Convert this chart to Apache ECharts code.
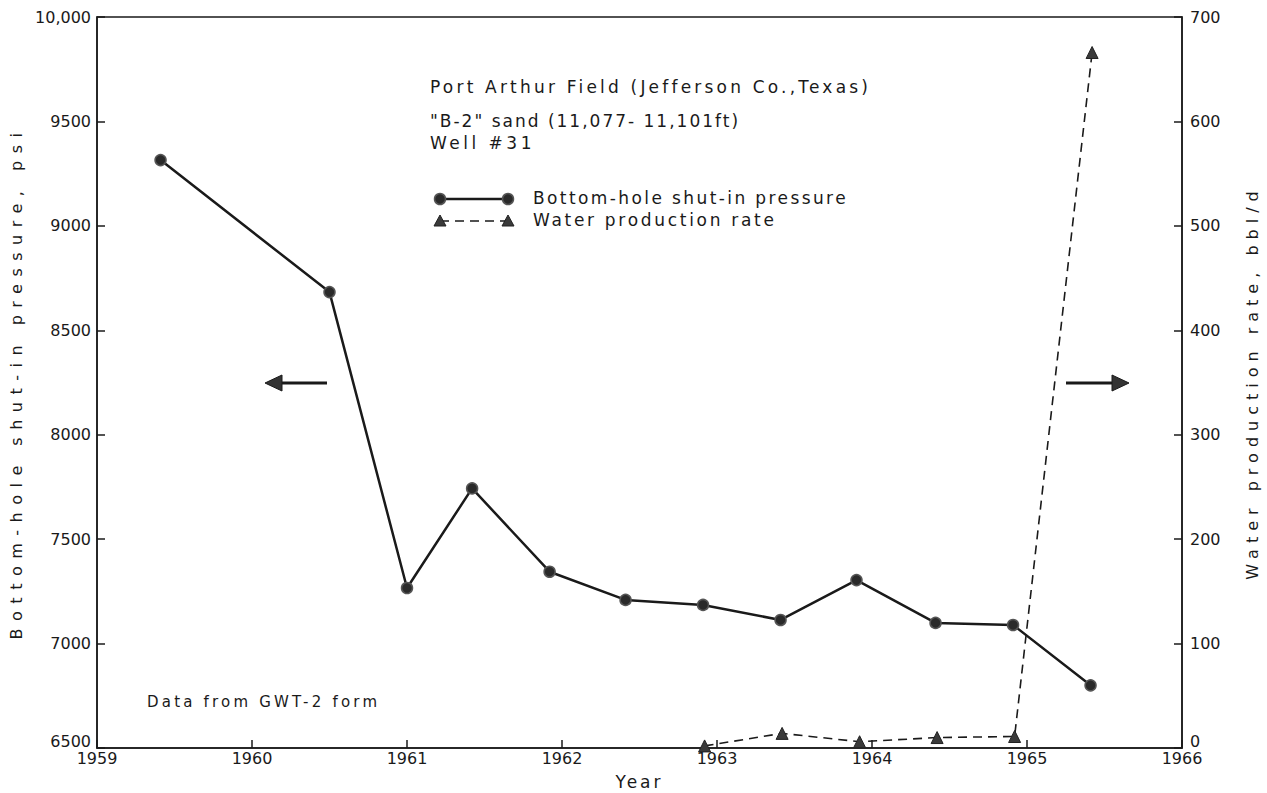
<!DOCTYPE html>
<html>
<head>
<meta charset="utf-8">
<script src="https://cdn.jsdelivr.net/npm/echarts@6/dist/echarts.min.js"></script>
<style>
html,body{margin:0;padding:0;background:#fff;}
#chart{width:1267px;height:793px;}
</style>
</head>
<body>
<div id="chart"></div>
<script>
// Data
const pressureYears = [1959.41, 1960.50, 1961.00, 1961.42, 1961.92, 1962.41, 1962.91, 1963.41, 1963.90, 1964.41, 1964.91, 1965.41];
const pressureValues = [9315, 8683, 7266, 7743, 7344, 7209, 7185, 7113, 7304, 7099, 7089, 6800];
const waterYears = [1962.92, 1963.42, 1963.92, 1964.42, 1964.92, 1965.42];
const waterValues = [2, 14, 6, 10, 11, 666];
const seriesNames = ['Bottom-hole shut-in pressure', 'Water production rate'];
const axisNames = ['Year', 'Bottom-hole shut-in pressure, psi', 'Water production rate, bbl/d'];
const annotationLines = ['Port Arthur Field (Jefferson Co.,Texas)', '"B-2" sand (11,077- 11,101ft)', 'Well #31'];
const footnote = 'Data from GWT-2 form';

const FONT = '"DejaVu Sans", "Liberation Sans", sans-serif';
const INK = '#1a1a1a';

const chart = echarts.init(document.getElementById('chart'), null, {renderer: 'svg'});

function zip(xs, ys) { return xs.map((x, i) => [x, ys[i]]); }

const liftRich = {z: {fontFamily: FONT, fontSize: 16, color: INK, padding: [0, 0, 14, 0]}};

const option = {
  backgroundColor: '#ffffff',
  animation: false,
  grid: {left: 97, right: 85, top: 17, bottom: 45, show: true, borderColor: INK, borderWidth: 1.5,
         backgroundColor: 'transparent', outerBoundsMode: 'none'},
  xAxis: {
    type: 'value', min: 1959, max: 1966, interval: 1,
    name: axisNames[0], nameLocation: 'middle', nameGap: 25,
    nameTextStyle: {fontFamily: FONT, fontSize: 17, color: INK},
    axisLine: {show: true, lineStyle: {color: INK, width: 1.5}},
    axisTick: {show: true, inside: true, length: 8, lineStyle: {color: INK, width: 1.5}},
    axisLabel: {fontFamily: FONT, fontSize: 16, color: INK, margin: 2, formatter: v => String(v)},
    splitLine: {show: false}
  },
  yAxis: [
    {
      type: 'value', min: 6500, max: 10000, interval: 500, position: 'left',
      name: axisNames[1], nameLocation: 'middle', nameGap: 72, nameRotate: 90,
      nameTextStyle: {fontFamily: FONT, fontSize: 16, color: INK},
      axisLine: {show: true, lineStyle: {color: INK, width: 1.5}},
      axisTick: {show: true, inside: true, length: 8, lineStyle: {color: INK, width: 1.5}},
      axisLabel: {fontFamily: FONT, fontSize: 16, color: INK, margin: 6,
        formatter: v => v >= 10000 ? v.toLocaleString('en-US') : (v === 6500 ? '{z|6500}' : String(v)),
        rich: liftRich},
      splitLine: {show: false}
    },
    {
      type: 'value', min: 0, max: 700, interval: 100, position: 'right',
      name: axisNames[2], nameLocation: 'middle', nameGap: 62, nameRotate: 90,
      nameTextStyle: {fontFamily: FONT, fontSize: 16, color: INK},
      axisLine: {show: true, lineStyle: {color: INK, width: 1.5}},
      axisTick: {show: true, inside: true, length: 8, lineStyle: {color: INK, width: 1.5}},
      axisLabel: {fontFamily: FONT, fontSize: 16, color: INK, margin: 8,
        formatter: v => v === 0 ? '{z|0}' : String(v),
        rich: liftRich},
      splitLine: {show: false}
    }
  ],
  series: [
    {
      name: seriesNames[0], type: 'line', yAxisIndex: 0,
      data: zip(pressureYears, pressureValues),
      symbol: 'circle', symbolSize: 11,
      lineStyle: {color: INK, width: 2.5},
      itemStyle: {color: '#2a2a2a', borderColor: '#555', borderWidth: 1.5},
      z: 3
    },
    {
      name: seriesNames[1], type: 'line', yAxisIndex: 1,
      data: zip(waterYears, waterValues),
      symbol: 'triangle', symbolSize: 12,
      lineStyle: {color: INK, width: 1.6, type: [9, 6]},
      itemStyle: {color: '#3a3a3a', borderColor: '#222', borderWidth: 1},
      z: 4
    }
  ],
  graphic: [
    {type: 'text', left: 430, top: 78, style: {text: annotationLines[0], font: '17px ' + FONT, fill: INK}},
    {type: 'text', left: 430, top: 112, style: {text: annotationLines[1], font: '17px ' + FONT, fill: INK}},
    {type: 'text', left: 430, top: 134, style: {text: annotationLines[2], font: '17px ' + FONT, fill: INK}},
    // legend: pressure
    {type: 'line', shape: {x1: 440, y1: 199, x2: 508, y2: 199}, style: {stroke: INK, lineWidth: 2.5}},
    {type: 'circle', shape: {cx: 440, cy: 199, r: 5.5}, style: {fill: '#2a2a2a', stroke: '#555', lineWidth: 1.5}},
    {type: 'circle', shape: {cx: 508, cy: 199, r: 5.5}, style: {fill: '#2a2a2a', stroke: '#555', lineWidth: 1.5}},
    {type: 'text', left: 533, top: 189, style: {text: seriesNames[0], font: '17px ' + FONT, fill: INK}},
    // legend: water
    {type: 'line', shape: {x1: 440, y1: 221, x2: 508, y2: 221}, style: {stroke: INK, lineWidth: 1.6, lineDash: [9, 6]}},
    {type: 'polygon', shape: {points: [[440, 215], [446, 226], [434, 226]]}, style: {fill: '#3a3a3a', stroke: '#222', lineWidth: 1}},
    {type: 'polygon', shape: {points: [[508, 215], [514, 226], [502, 226]]}, style: {fill: '#3a3a3a', stroke: '#222', lineWidth: 1}},
    {type: 'text', left: 533, top: 211, style: {text: seriesNames[1], font: '17px ' + FONT, fill: INK}},
    // arrows
    {type: 'line', shape: {x1: 278, y1: 383, x2: 327, y2: 383}, style: {stroke: INK, lineWidth: 3}},
    {type: 'polygon', shape: {points: [[265, 383], [282, 375], [282, 391]]}, style: {fill: '#333', stroke: INK, lineWidth: 1}},
    {type: 'line', shape: {x1: 1066, y1: 383, x2: 1115, y2: 383}, style: {stroke: INK, lineWidth: 3}},
    {type: 'polygon', shape: {points: [[1129, 383], [1112, 375], [1112, 391]]}, style: {fill: '#333', stroke: INK, lineWidth: 1}},
    // footnote
    {type: 'text', left: 147, top: 694, style: {text: footnote, font: '15px ' + FONT, fill: INK}}
  ]
};
chart.setOption(option);

// Widely spaced lettering of the original drawing (SVG letter-spacing on the real text nodes)
const spacing = {};
spacing[axisNames[1]] = 7.5;
spacing[axisNames[2]] = 6;
spacing[axisNames[0]] = 3;
spacing[annotationLines[0]] = 3.2;
spacing[annotationLines[1]] = 2.0;
spacing[annotationLines[2]] = 3.5;
spacing[seriesNames[0]] = 2.4;
spacing[seriesNames[1]] = 2.7;
spacing[footnote] = 3.2;
function applySpacing() {
  document.querySelectorAll('#chart svg text').forEach(el => {
    const t = el.textContent;
    if (spacing[t] !== undefined) el.setAttribute('letter-spacing', spacing[t]);
  });
}
applySpacing();
chart.on('finished', applySpacing);
setTimeout(applySpacing, 50);
</script>
</body>
</html>
